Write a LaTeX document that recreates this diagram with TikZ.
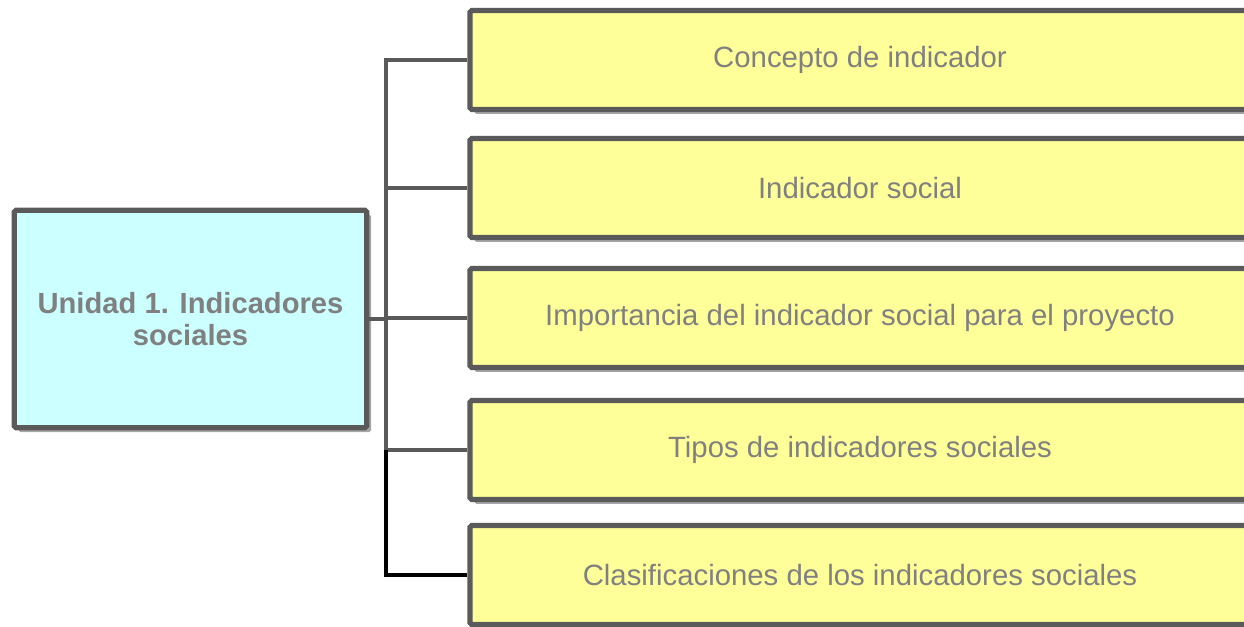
\documentclass[tikz,border=0pt]{standalone}
\usepackage{fontspec}
\setmainfont{Liberation Sans}
\usetikzlibrary{positioning, shadows}
\definecolor{boxline}{HTML}{5A5A5A}
\definecolor{boxtext}{HTML}{808080}
\definecolor{unitfill}{HTML}{CCFFFF}
\definecolor{topicfill}{HTML}{FFFF99}

\begin{document}
\begin{tikzpicture}[x=0.02cm, y=-0.02cm,
	box/.style={draw=boxline, line width=3pt, rounded corners=1pt, text=boxtext,
		font=\fontsize{16.7}{19}\selectfont, align=center,
		drop shadow={shadow xshift=2.5pt, shadow yshift=-2.5pt, opacity=0.35, fill=black}},
	unit/.style={box, fill=unitfill, minimum width=7.05cm, minimum height=4.35cm, font=\fontsize{16.6}{18.5}\selectfont\bfseries},
	topic/.style={box, fill=topicfill, minimum width=15.6cm, minimum height=1.98cm},
	conn/.style={boxline, line width=2pt},
	connb/.style={black, line width=2.6pt}]
\useasboundingbox (0,0) rectangle (1244,626);
\clip (0,0) rectangle (1244,626);
\node[unit] (unidad) at (190.5,319) {Unidad 1. Indicadores\\sociales};
\foreach \n/\y/\t in {1/60/Concepto de indicador, 2/188/Indicador social,
	3/318/Importancia del indicador social para el proyecto,
	4/450/Tipos de indicadores sociales, 5/575/Clasificaciones de los indicadores sociales} {
	\node[topic] (t\n) at (860,\y) {\t};
}
\coordinate (bus) at (386,0);
\draw[conn] (t1.west) -- (t1.west -| bus) -- (t4.west -| bus) -- (t4.west);
\draw[conn] (t2.west) -- (t2.west -| bus);
\draw[conn] (t3.west) -- (t3.west -| bus);
\draw[conn] (unidad.east) -- (unidad.east -| bus);
\draw[connb] (t4.west -| bus) -- (t5.west -| bus) -- (t5.west);
\end{tikzpicture}
\end{document}
